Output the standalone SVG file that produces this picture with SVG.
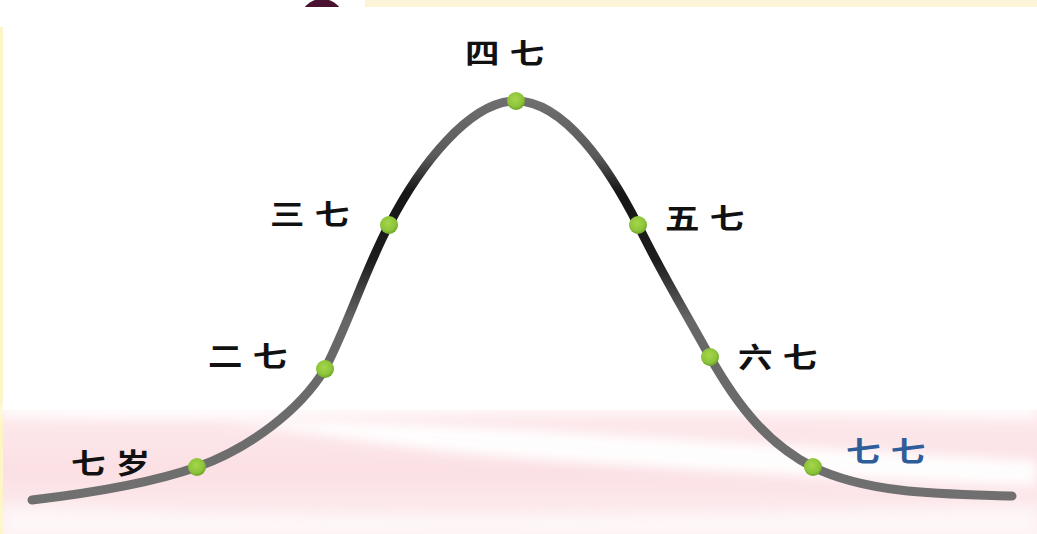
<svg xmlns="http://www.w3.org/2000/svg" width="1037" height="534" viewBox="0 0 1037 534">
<defs>
<style>
.lbl{font-family:"Noto Sans CJK SC","Noto Sans CJK TC",sans-serif;font-weight:700;font-size:30px;fill:#111;letter-spacing:9px}
.blue{fill:#2f5d99}
.dot{fill:url(#dotG)}
</style>
<radialGradient id="dotG" cx="0.45" cy="0.4" r="0.6">
<stop offset="0" stop-color="#a6d64a"/>
<stop offset="0.7" stop-color="#8cc43a"/>
<stop offset="1" stop-color="#6ea22a"/>
</radialGradient>
<linearGradient id="curveG" gradientUnits="userSpaceOnUse" x1="0" y1="100" x2="0" y2="500">
<stop offset="0" stop-color="#6f6f6f"/>
<stop offset="0.14" stop-color="#5a5a5a"/>
<stop offset="0.23" stop-color="#161616"/>
<stop offset="0.4" stop-color="#1c1c1c"/>
<stop offset="0.55" stop-color="#666"/>
<stop offset="1" stop-color="#707070"/>
</linearGradient>
<linearGradient id="pinkG" x1="0" y1="0" x2="0" y2="1">
<stop offset="0" stop-color="#fde9ec"/>
<stop offset="0.5" stop-color="#fbe0e4"/>
<stop offset="1" stop-color="#fdf0f2"/>
</linearGradient>
<filter id="blur" x="-10%" y="-50%" width="120%" height="200%"><feGaussianBlur stdDeviation="6"/></filter>
<clipPath id="topClip"><rect x="0" y="0" width="1037" height="7"/></clipPath>
</defs>
<g id="background">
<rect x="0" y="0" width="1037" height="534" fill="#ffffff"/>
<rect x="365" y="0" width="672" height="7" fill="#fbf4d6"/>
<ellipse cx="322" cy="20" rx="22" ry="21" fill="#4a1230" clip-path="url(#topClip)"/>
<rect x="0" y="27" width="3" height="507" fill="#fdf5c6"/>
<rect x="3" y="410" width="1034" height="124" fill="url(#pinkG)"/>
<path d="M0 405 L1037 405 L1037 418 C 900 416, 600 408, 230 418 C 150 420, 60 418, 0 416 Z" fill="#fff" filter="url(#blur)"/>
<path d="M220 420 C 420 418, 650 440, 1037 460 L1037 486 C 800 478, 600 466, 450 452 C 350 440, 280 428, 220 420 Z" fill="#ffffff" opacity="0.95" filter="url(#blur)"/>
<path d="M3 505 C 300 520, 700 515, 1037 505 L1037 534 L3 534 Z" fill="#fff" opacity="0.5" filter="url(#blur)"/>
</g>
<g id="connectors">
<path d="M32 500 C 100 492, 160 480, 197 467 C 250 448, 300 410, 325 369 C 350 320, 365 270, 389 225 C 420 165, 470 101, 516 101 C 565 101, 610 170, 638 225 C 665 280, 690 320, 710 357 C 740 410, 770 445, 813 467 C 870 495, 950 494, 1012 496" fill="none" stroke="url(#curveG)" stroke-width="9" stroke-linecap="round"/>
</g>
<g id="node-7sui"><circle class="dot" cx="197" cy="467" r="9"/><text class="lbl" transform="translate(71 474) scale(1.15 0.95)">七岁</text></g>
<g id="node-27"><circle class="dot" cx="325" cy="369" r="9"/><text class="lbl" transform="translate(208 367) scale(1.15 0.95)">二七</text></g>
<g id="node-37"><circle class="dot" cx="389" cy="225" r="9"/><text class="lbl" transform="translate(270 225) scale(1.15 0.95)">三七</text></g>
<g id="node-47"><circle class="dot" cx="516" cy="101" r="9"/><text class="lbl" transform="translate(465 64) scale(1.15 0.95)">四七</text></g>
<g id="node-57"><circle class="dot" cx="638" cy="225" r="9"/><text class="lbl" transform="translate(665 229) scale(1.15 0.95)">五七</text></g>
<g id="node-67"><circle class="dot" cx="710" cy="357" r="9"/><text class="lbl" transform="translate(738 368) scale(1.15 0.95)">六七</text></g>
<g id="node-77"><circle class="dot" cx="813" cy="467" r="9"/><text class="lbl blue" transform="translate(846 462) scale(1.15 0.95)">七七</text></g>
</svg>
